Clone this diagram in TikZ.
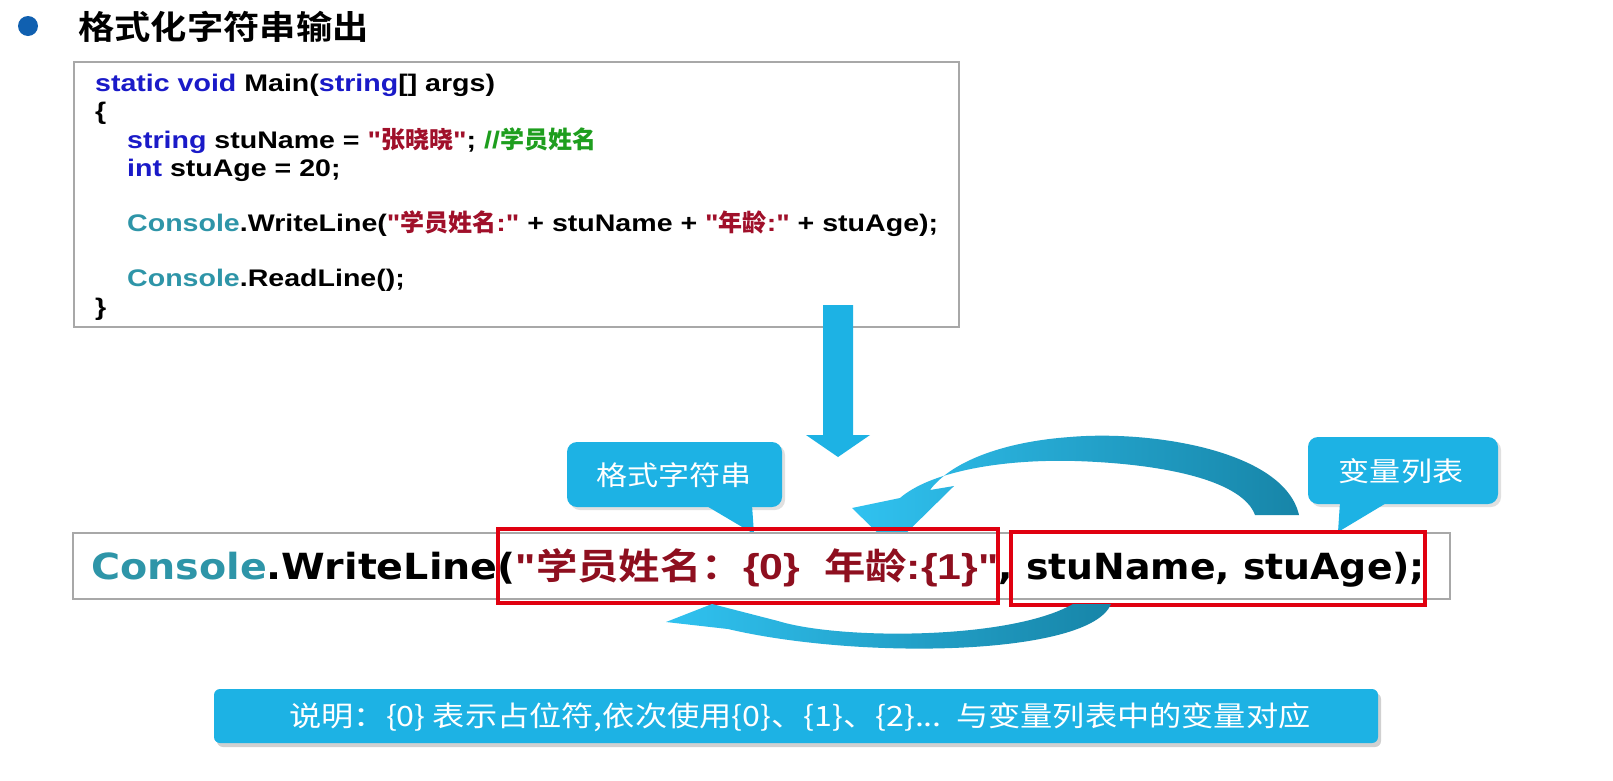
\documentclass[tikz,border=0pt]{standalone}
\usepackage{fontspec}
\setmainfont{Liberation Sans}
\newfontfamily\lat[FakeStretch=1.19]{Liberation Sans}
\newfontfamily\heavy[FakeStretch=1.1]{DejaVu Sans}
\newfontfamily\heavyn[FakeStretch=1.05]{DejaVu Sans}
\newfontfamily\cjk[FakeStretch=1.15,BoldFont={Noto Sans CJK SC Bold}]{Noto Sans CJK SC}
\newfontfamily\cjkcode{Noto Sans CJK SC}
\newfontfamily\cjktitle[FakeStretch=1.1]{Noto Sans CJK SC Bold}
\newcommand\zh[1]{{\cjkcode #1}}
\newcommand\zhb[1]{{\cjk\bfseries #1}}
\newcommand\la[1]{{\lat\bfseries #1}}
\definecolor{kw}{HTML}{1A1AC8}
\definecolor{cls}{HTML}{2E95A8}
\definecolor{strc}{HTML}{A0102A}
\definecolor{strb}{HTML}{8E0F1F}
\definecolor{cmt}{HTML}{1E9E1E}
\definecolor{bblue}{HTML}{1DB2E4}
\definecolor{bullet}{HTML}{1060B0}
\definecolor{redbox}{HTML}{E00010}
\definecolor{gline}{HTML}{A8A8A8}
\definecolor{arlight}{HTML}{30C2F0}
\definecolor{ardark}{HTML}{1785A8}
\begin{document}
\begin{tikzpicture}[x=1pt,y=-1pt,
  codetxt/.style={anchor=base west, inner sep=0pt, font=\lat\bfseries\fontsize{24}{28}\selectfont},
  bigtxt/.style={anchor=base west, inner sep=0pt, font=\heavy\bfseries\fontsize{36}{40}\selectfont},
  gbox/.style={draw=gline, line width=1.5pt, fill=white},
  rbox/.style={draw=redbox, line width=4pt},
  callout/.style={fill=bblue, rounded corners=10pt},
  calltxt/.style={text=white, inner sep=0pt, font=\cjk\fontsize{27}{29}\selectfont},
]
\useasboundingbox (0,0) rectangle (1613,780);
\fill[white] (0,0) rectangle (1613,780);

% title
\fill[bullet] (28,26) circle (10);
\node[anchor=west, inner sep=0pt, font=\cjktitle\fontsize{33}{33}\selectfont] (title) at (78,27) {格式化字符串输出};

% code box
\draw[gbox] (74,62) rectangle (959,327);
\node[codetxt] (l1) at (95,91) {\textcolor{kw}{static void} Main(\textcolor{kw}{string}[] args)};
\node[codetxt] (l2) at (95,119) {\{};
\node[codetxt] (l3) at (127,148) {\textcolor{kw}{string} stuName = \textcolor{strc}{"\zh{张晓晓}"}; \textcolor{cmt}{//\zh{学员姓名}}};
\node[codetxt] (l4) at (127,176) {\textcolor{kw}{int} stuAge = 20;};
\node[codetxt] (l5) at (127,231) {\textcolor{cls}{Console}.WriteLine(\textcolor{strc}{"\zh{学员姓名}:"} + stuName + \textcolor{strc}{"\zh{年龄}:"} + stuAge);};
\node[codetxt] (l6) at (127,286) {\textcolor{cls}{Console}.ReadLine();};
\node[codetxt] (l7) at (95,315) {\}};

% down arrow
\fill[bblue] (823,305) -- (853,305) -- (853,435) -- (870,435) -- (838,457) -- (806,435) -- (823,435) -- cycle;

% callouts
\fill[black!12, rounded corners=10pt] (570,445) rectangle (785,510);
\fill[callout] (567,442) rectangle (782,507);
\fill[bblue] (705,505) -- (752,505) -- (754,534) -- cycle;
\node[calltxt] (fmt) at (674,475) {格式字符串};

\fill[black!12, rounded corners=10pt] (1311,440) rectangle (1501,507);
\fill[callout] (1308,437) rectangle (1498,504);
\fill[bblue] (1340,502) -- (1388,502) -- (1338,532) -- cycle;
\node[calltxt] (var) at (1401,471) {变量列表};

% upper curved arrow
\shade[left color=arlight, right color=ardark]
  (1299,515) .. controls (1284,450) and (1150,430) .. (1070,437)
  .. controls (1000,442) and (950,463) .. (930,490)
  -- (954,486) -- (892,547) -- (852,508) -- (900,498)
  .. controls (930,472) and (1000,459) .. (1075,461)
  .. controls (1170,464) and (1243,482) .. (1255,515) -- cycle;

% bottom line box
\draw[gbox] (73,533) rectangle (1450,599);
\node[bigtxt] (cw) at (91,579) {\textcolor{cls}{Console}.WriteLine(\textcolor{strb}{\la{"}\zhb{学员姓名：}\la{\{0\}\ \ }\zhb{年龄}\la{:\{1\}"}}{\heavyn\bfseries, stuName, stuAge);}};
\draw[rbox] (498,529) rectangle (998,603);
\draw[rbox] (1011,532) rectangle (1425,605);

% lower curved arrow
\shade[left color=arlight, right color=ardark]
  (666,622) -- (712,604) -- (778,621)
  .. controls (840,640) and (1010,640) .. (1073,604)
  -- (1111,604)
  .. controls (1090,656) and (860,660) .. (728,629) -- cycle;

% explanation bar
\fill[black!30, opacity=.6, rounded corners=6pt] (217,693) rectangle (1381,747);
\fill[bblue, rounded corners=6pt] (214,689) rectangle (1378,743);
\node[text=white, inner sep=0pt, font=\cjk\fontsize{28}{30}\selectfont] (note) at (800,717) {说明：\{0\} 表示占位符,依次使用\{0\}、\{1\}、\{2\}...\ \ 与变量列表中的变量对应};
\end{tikzpicture}
\end{document}
